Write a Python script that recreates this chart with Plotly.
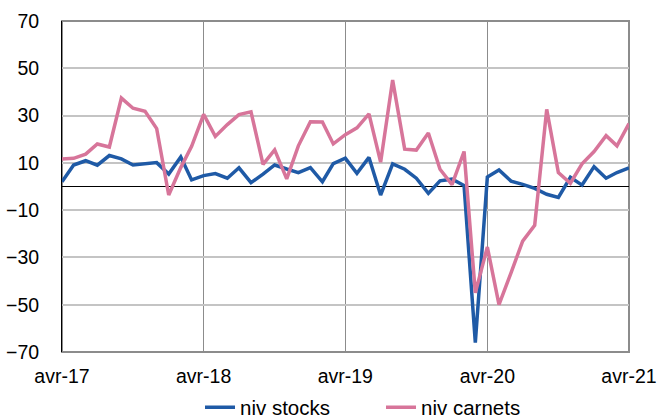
import pandas as pd
import plotly.graph_objects as go

months = pd.date_range("2017-04-01", periods=49, freq="MS")

niv_stocks = [2.0, 9.1, 10.9, 9.0, 13.1, 11.7, 9.1, 9.7, 10.1, 5.3, 12.5, 2.8,
              4.6, 5.5, 3.5, 7.9, 1.6, 5.2, 9.1, 7.4, 5.9, 8.0, 2.0, 9.7,
              12.0, 5.6, 12.3, -3.6, 9.6, 7.3, 3.5, -2.9, 2.4, 3.1, 0.4, -66.0,
              4.0, 7.0, 2.3, 0.9, -0.8, -3.3, -4.6, 3.9, 0.6, 8.4, 3.5, 5.9, 7.9]

niv_carnets = [11.6, 11.9, 13.7, 18.0, 16.7, 37.4, 33.1, 31.8, 24.5, -3.6, 8.0, 17.0,
               30.5, 21.2, 26.2, 30.4, 31.6, 9.4, 15.5, 3.2, 17.2, 27.4, 27.3, 18.0,
               21.9, 24.8, 30.7, 10.3, 45.0, 15.8, 15.4, 22.6, 7.3, 0.8, 14.8, -45.0,
               -25.6, -50.0, -36.5, -23.1, -16.4, 32.6, 5.9, 1.4, 9.6, 14.8, 21.5, 17.2, 26.6]

x_tickvals = ["2017-04-01", "2018-04-01", "2019-04-01", "2020-04-01", "2021-04-01"]
x_ticktext = ["avr-17", "avr-18", "avr-19", "avr-20", "avr-21"]
y_tickvals = [-70, -50, -30, -10, 10, 30, 50, 70]

BLUE = "#1F5AA6"
PINK = "#D7759A"

fig = go.Figure()
fig.add_trace(go.Scatter(x=months, y=niv_stocks, mode="lines", name="niv stocks",
                         line=dict(color=BLUE, width=3.5)))
fig.add_trace(go.Scatter(x=months, y=niv_carnets, mode="lines", name="niv carnets",
                         line=dict(color=PINK, width=3.5)))

fig.update_layout(
    width=659, height=420,
    margin=dict(l=62, r=30, t=21, b=68, autoexpand=False),
    paper_bgcolor="white", plot_bgcolor="white",
    font=dict(family="Liberation Sans, Arial, sans-serif", size=19.5, color="black"),
    showlegend=True,
    legend=dict(orientation="h", x=0.2434, xanchor="left",
                yref="container", y=0.03, yanchor="middle",
                font=dict(size=20.5), itemwidth=30, entrywidth=136,
                traceorder="normal"),
    xaxis=dict(range=[x_tickvals[0], x_tickvals[-1]], tickmode="array",
               tickvals=x_tickvals, ticktext=x_ticktext, automargin=False,
               showgrid=True, gridcolor="#8C8C8C", gridwidth=1,
               showline=False, zeroline=False, ticks="", ticklabelstandoff=10),
    yaxis=dict(range=[-70, 70], tickmode="array", tickvals=y_tickvals, automargin=False,
               showgrid=True, gridcolor="#C4C4C4", gridwidth=2,
               zeroline=True, zerolinecolor="black", zerolinewidth=1,
               showline=True, linecolor="black", linewidth=1,
               ticks="", ticklabelstandoff=18),
    shapes=[dict(type="rect", xref="paper", yref="paper", x0=0, x1=1, y0=0, y1=1,
                 line=dict(color="#8C8C8C", width=2), layer="below")],
)

fig.write_html("out.html", config={"displayModeBar": False},
               post_script="document.body.style.margin='0';document.body.style.overflow='hidden';")
